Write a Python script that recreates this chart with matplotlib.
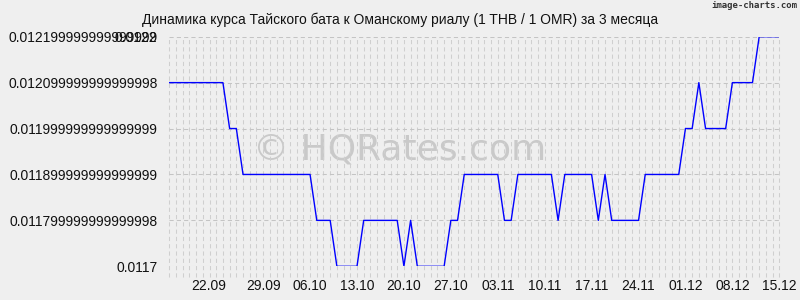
import numpy as np
import matplotlib
matplotlib.use("Agg")
import matplotlib.pyplot as plt
from matplotlib.transforms import offset_copy

# daily rate THB/OMR, 15.09 .. 15.12 (one value per day)
rate = [0.0121] * 9 + [0.0120] * 2 + [0.0119] * 11 + [0.0118] * 3 + [0.0117] * 4 \
    + [0.0118] * 6 + [0.0117] + [0.0118] + [0.0117] * 5 + [0.0118] * 2 \
    + [0.0119] * 6 + [0.0118] * 2 + [0.0119] * 6 + [0.0118] + [0.0119] * 5 \
    + [0.0118] + [0.0119] + [0.0118] * 5 + [0.0119] * 6 + [0.0120] * 2 \
    + [0.0121] + [0.0120] * 4 + [0.0121] * 4 + [0.0122] * 4
days = np.arange(len(rate))

# x labels and where they sit (in days from 15.09)
x_labels = ["22.09", "29.09", "06.10", "13.10", "20.10", "27.10", "03.11",
            "10.11", "17.11", "24.11", "01.12", "08.12", "15.12"]
x_label_pos = [5.9, 14, 21, 28, 35, 42, 49, 56, 63, 70, 77, 84, 91]

y_levels = [0.0117, 0.0118, 0.0119, 0.0120, 0.0121, 0.0122]
y_labels = ["0.0117", "0.011799999999999998", "0.011899999999999999",
            "0.011999999999999999", "0.012099999999999998", "0.0122"]
# second label printed on top of the last one
y_extra_label = "0.012199999999999999"

title = "Динамика курса Тайского бата к Оманскому риалу (1 THB / 1 OMR) за 3 месяца"

bg = "#efefef"
plt.rcParams["font.family"] = ["Liberation Sans", "DejaVu Sans"]

fig = plt.figure(figsize=(8, 3), dpi=100, facecolor=bg)
ax = fig.add_axes([169.3 / 800, 1 - 266.3 / 300, 610 / 800, 229.6 / 300])
ax.set_facecolor(bg)
for s in ax.spines.values():
    s.set_visible(False)

ax.set_xlim(0, days[-1])
ax.set_ylim(0.0117, 0.0122)

# grid: dashed daily verticals (running a bit below the axis) and level lines
ax.vlines(days, -0.045, 1, transform=ax.get_xaxis_transform(), clip_on=False,
          colors="#cfcfcf", lw=0.75, linestyles=(0, (4, 3)), zorder=1)
ax.hlines(y_levels, 0, days[-1], colors="#c4c4c4", lw=0.75,
          linestyles=(0, (4, 3)), zorder=1)

ax.text(0.1377, 0.463, "© HQRates.com", transform=ax.transAxes,
        fontsize=26, family="DejaVu Sans", color="#c9c9c9",
        ha="left", va="baseline", zorder=0)

ax.plot(days, rate, color="#0000ff", lw=1.0, zorder=3)

ax.set_xticks(x_label_pos)
ax.set_xticklabels(x_labels)
ax.set_yticks(y_levels)
ax.set_yticklabels(y_labels)
ax.tick_params(axis="both", length=0, labelsize=10, colors="#111111")
ax.tick_params(axis="y", pad=8.5)
ax.tick_params(axis="x", pad=9)

ax.text(0, y_levels[-1], y_extra_label,
        transform=offset_copy(ax.get_yaxis_transform(), fig=fig, x=-8.5, units="points"),
        ha="right", va="center_baseline", fontsize=10, color="#111111", clip_on=False)

fig.text(0.5, 1 - 24 / 300, title, ha="center", va="baseline",
         fontsize=10, color="#111111")
fig.text(797 / 800, 1 - 8.5 / 300, "image-charts.com", ha="right",
         va="baseline", fontsize=6.5, family="DejaVu Sans Mono",
         fontweight="bold", color="#333333")

fig.savefig("out.png", dpi=100, facecolor=bg)
